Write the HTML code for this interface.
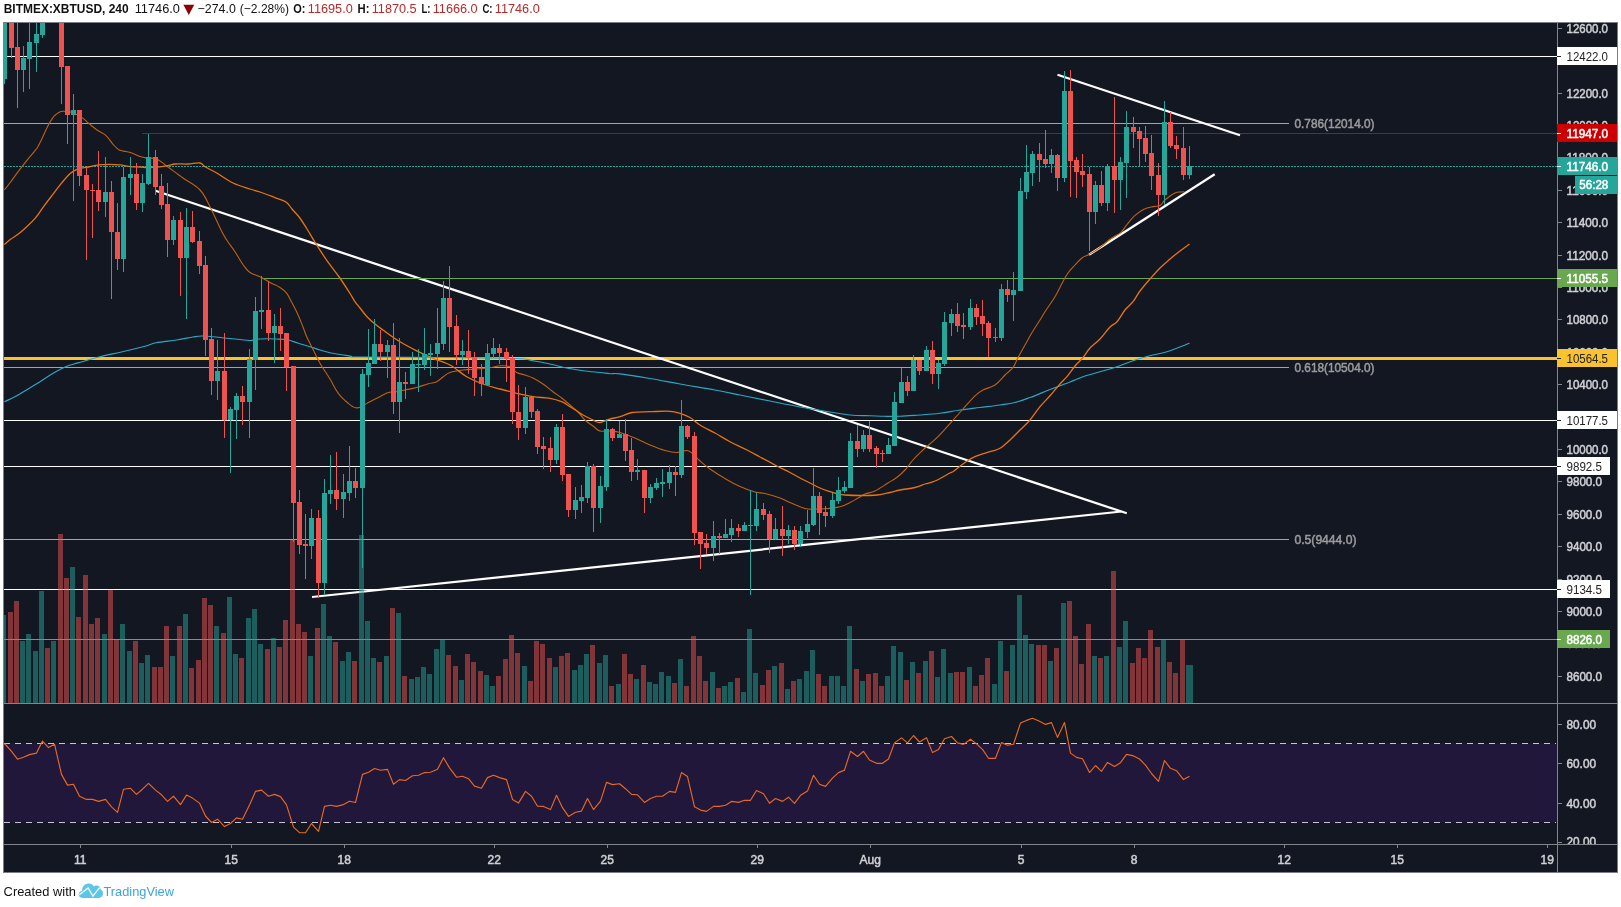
<!DOCTYPE html>
<html><head><meta charset="utf-8"><title>BITMEX:XBTUSD</title>
<style>html,body{margin:0;padding:0;background:#fff;width:1621px;height:907px;overflow:hidden;font-family:"Liberation Sans",sans-serif}</style></head>
<body>
<svg width="1621" height="907" viewBox="0 0 1621 907" style="position:absolute;left:0;top:0;will-change:transform" font-family="Liberation Sans, sans-serif" shape-rendering="auto">
<rect x="0" y="0" width="1621" height="907" fill="#ffffff"/>
<rect x="3" y="22" width="1615" height="851" fill="#7d7f86"/>
<rect x="4" y="23" width="1613" height="849" fill="#131722"/>
<defs><clipPath id="cm"><rect x="4" y="23" width="1553" height="680"/></clipPath><clipPath id="cax"><rect x="1558" y="704" width="59" height="140"/></clipPath><clipPath id="cr"><rect x="4" y="704" width="1553" height="140"/></clipPath></defs>
<g clip-path="url(#cm)">
<rect x="4" y="56" width="1553" height="1" fill="#ffffff"/>
<rect x="4" y="420" width="1553" height="1" fill="#ffffff"/>
<rect x="4" y="466" width="1553" height="1" fill="#ffffff"/>
<rect x="4" y="589" width="1553" height="1" fill="#ffffff"/>
<rect x="4" y="357" width="1553" height="3" fill="#fbc22f"/>
<rect x="142" y="133" width="1415" height="1" fill="#cc0000"/>
<rect x="4" y="639" width="1553" height="1" fill="#6aa84f"/>
<rect x="4" y="123" width="1285" height="1" fill="#a2a4aa"/>
<text x="1294.5" y="127.7" font-size="12" fill="#9b9b9b" stroke="#9b9b9b" stroke-width="0.5" textLength="80" lengthAdjust="spacingAndGlyphs">0.786(12014.0)</text>
<rect x="4" y="367" width="1285" height="1" fill="#a2a4aa"/>
<text x="1294.5" y="371.9" font-size="12" fill="#9b9b9b" stroke="#9b9b9b" stroke-width="0.5" textLength="80" lengthAdjust="spacingAndGlyphs">0.618(10504.0)</text>
<rect x="4" y="539" width="1285" height="1" fill="#a2a4aa"/>
<text x="1294.5" y="543.9" font-size="12" fill="#9b9b9b" stroke="#9b9b9b" stroke-width="0.5" textLength="62" lengthAdjust="spacingAndGlyphs">0.5(9444.0)</text>
<line x1="4" y1="166.5" x2="1557" y2="166.5" stroke="#26a69a" stroke-width="1" stroke-dasharray="2 1" shape-rendering="crispEdges"/>
<line x1="155.5" y1="190.8" x2="1126.8" y2="513.3" stroke="#ffffff" stroke-width="2.25" stroke-linecap="butt"/>
<line x1="312" y1="597" x2="1121.5" y2="511.5" stroke="#ffffff" stroke-width="2.25" stroke-linecap="butt"/>
<line x1="1057.5" y1="74.7" x2="1240" y2="135.3" stroke="#ffffff" stroke-width="2.25" stroke-linecap="butt"/>
<line x1="1089" y1="254.7" x2="1214.7" y2="174.2" stroke="#ffffff" stroke-width="2.25" stroke-linecap="butt"/>
<rect x="261" y="278" width="1296" height="1" fill="#6aa84f"/>
<path d="M4.4,401.8 C6.6,400.7 11.5,398.6 16.7,395.7 C21.9,392.8 26.4,390.0 33.4,385.7 C40.4,381.4 49.7,375.3 55.7,371.8 C61.7,368.3 62.8,367.8 66.8,366.2 C70.8,364.6 72.0,364.6 78.0,362.9 C84.0,361.2 92.0,358.7 100.0,356.7 C108.0,354.7 114.4,353.6 122.5,351.7 C130.6,349.8 139.0,347.8 145.0,346.2 C151.0,344.6 150.3,343.9 156.0,342.8 C161.7,341.7 170.0,341.0 176.7,340.0 C183.4,339.0 188.5,337.7 193.0,337.0 C197.5,336.3 198.1,336.1 201.7,336.0 C205.3,335.9 208.5,336.3 213.0,336.7 C217.5,337.1 221.8,337.8 226.7,338.3 C231.6,338.8 235.8,339.1 240.0,339.5 C244.2,339.9 246.4,340.6 250.0,340.5 C253.6,340.4 255.2,339.3 260.0,339.0 C264.8,338.7 271.6,338.8 276.7,339.0 C281.8,339.2 284.4,339.2 288.3,340.0 C292.2,340.8 294.4,342.1 298.3,343.3 C302.2,344.5 306.1,345.5 310.0,346.7 C313.9,347.9 316.4,348.9 320.0,350.0 C323.6,351.1 324.6,351.7 330.0,352.8 C335.4,353.9 344.6,355.2 350.0,356.0 C355.4,356.8 342.0,356.7 360.0,357.0 C378.0,357.3 421.8,357.2 450.0,357.5 C478.2,357.8 501.8,357.9 516.7,358.5 C531.6,359.1 527.0,359.8 533.0,360.8 C539.0,361.8 543.9,362.7 550.0,364.0 C556.1,365.3 560.8,366.8 566.7,368.0 C572.6,369.2 577.0,370.0 583.0,370.8 C589.0,371.6 595.1,372.0 600.0,372.5 C604.9,373.0 606.4,373.4 610.0,373.7 C613.6,374.0 612.8,373.0 620.0,373.9 C627.2,374.8 639.2,376.7 650.0,378.5 C660.8,380.3 668.3,381.9 680.0,384.0 C691.7,386.1 704.2,388.0 715.0,390.0 C725.8,392.0 730.1,393.0 740.0,395.0 C749.9,397.0 759.2,398.8 770.0,401.0 C780.8,403.2 789.2,405.0 800.0,407.0 C810.8,409.0 821.0,410.6 830.0,412.0 C839.0,413.4 842.8,414.3 850.0,415.0 C857.2,415.7 863.7,415.6 870.0,415.8 C876.3,416.0 879.6,416.2 885.0,416.3 C890.4,416.4 893.7,416.5 900.0,416.3 C906.3,416.1 912.8,415.5 920.0,415.0 C927.2,414.5 932.8,414.2 940.0,413.3 C947.2,412.4 952.8,411.0 960.0,410.0 C967.2,409.0 972.8,408.4 980.0,407.5 C987.2,406.6 993.7,405.9 1000.0,405.0 C1006.3,404.1 1009.6,403.9 1015.0,402.5 C1020.4,401.1 1023.7,399.8 1030.0,397.5 C1036.3,395.2 1042.8,392.3 1050.0,389.5 C1057.2,386.7 1064.1,384.3 1070.0,382.0 C1075.9,379.7 1077.6,378.6 1083.0,376.7 C1088.4,374.8 1093.9,373.5 1100.0,371.7 C1106.1,369.9 1111.1,368.7 1117.0,366.7 C1122.9,364.7 1127.1,362.8 1133.0,360.8 C1138.9,358.8 1143.9,357.4 1150.0,355.8 C1156.1,354.2 1159.9,353.9 1167.0,351.7 C1174.1,349.4 1185.5,344.8 1189.5,343.3" fill="none" stroke="#2aa9c4" stroke-width="1.15" stroke-linejoin="round"/>
<path d="M4.4,190.0 C5.5,188.6 8.2,185.2 10.6,182.0 C13.0,178.8 14.7,176.1 17.6,172.3 C20.5,168.5 23.3,164.8 26.5,160.8 C29.7,156.8 33.2,152.8 35.3,150.3 C37.4,147.8 36.6,148.9 37.9,146.7 C39.2,144.5 40.6,141.5 42.3,137.9 C44.0,134.3 45.7,130.2 47.6,126.5 C49.5,122.8 51.3,119.8 52.9,117.6 C54.5,115.4 55.0,115.2 56.4,114.1 C57.8,113.0 59.2,112.0 60.8,111.5 C62.4,111.0 63.3,111.2 65.3,111.4 C67.3,111.6 69.0,111.4 72.0,112.5 C75.0,113.6 79.1,115.7 82.0,117.6 C84.9,119.5 85.5,120.7 88.2,122.9 C90.9,125.1 93.8,127.8 97.0,130.0 C100.2,132.2 102.9,132.8 105.8,135.3 C108.7,137.8 110.7,141.6 112.9,144.1 C115.1,146.6 116.3,148.1 118.2,149.4 C120.1,150.7 121.3,150.6 123.5,151.1 C125.7,151.6 127.5,151.4 130.5,152.4 C133.5,153.4 137.0,155.4 140.0,156.4 C143.0,157.4 144.0,157.5 147.0,158.0 C150.0,158.5 153.2,157.6 156.7,159.0 C160.2,160.4 162.0,162.6 166.7,166.0 C171.4,169.4 177.0,173.7 183.0,178.0 C189.0,182.3 195.1,184.8 200.0,190.0 C204.9,195.2 206.2,199.5 210.0,206.7 C213.8,213.9 218.0,224.0 221.0,230.0 C224.0,236.0 224.2,236.1 226.7,240.0 C229.2,243.9 232.0,247.2 235.0,251.7 C238.0,256.2 240.6,261.3 243.3,265.0 C246.0,268.7 247.0,270.4 250.0,272.5 C253.0,274.6 256.4,274.9 260.0,276.7 C263.6,278.5 266.4,280.6 270.0,282.5 C273.6,284.4 277.0,285.6 280.0,287.5 C283.0,289.4 284.4,290.4 286.6,293.2 C288.8,296.0 289.9,298.9 292.0,302.8 C294.1,306.7 296.0,310.3 298.0,314.7 C300.0,319.1 301.4,323.0 303.0,327.0 C304.6,331.0 304.8,332.6 306.7,336.7 C308.6,340.8 310.9,345.2 313.3,350.0 C315.7,354.8 317.0,358.1 320.0,363.3 C323.0,368.5 326.7,373.6 330.0,379.0 C333.3,384.4 335.0,388.9 338.3,393.3 C341.6,397.7 345.2,400.7 348.3,403.3 C351.4,405.9 353.4,407.3 355.8,407.8 C358.2,408.3 359.4,407.3 361.7,406.3 C363.9,405.3 365.3,404.1 368.3,402.5 C371.3,400.9 374.7,399.3 378.3,397.5 C381.9,395.7 385.3,393.5 388.3,392.5 C391.3,391.5 392.0,392.4 395.0,392.0 C398.0,391.6 401.1,390.8 405.0,390.0 C408.9,389.2 412.5,388.6 416.7,387.5 C420.9,386.4 424.7,384.7 428.3,383.7 C431.9,382.7 434.0,383.0 436.7,381.7 C439.4,380.4 440.9,378.4 443.3,376.7 C445.7,375.0 446.4,373.7 450.0,372.5 C453.6,371.3 458.5,370.6 463.3,370.0 C468.1,369.4 471.6,369.4 476.7,369.0 C481.8,368.6 487.5,368.1 491.7,367.5 C495.9,366.9 496.7,365.9 500.0,365.8 C503.3,365.7 507.0,365.5 510.0,366.7 C513.0,367.9 514.0,371.0 516.7,372.5 C519.4,374.0 522.1,374.0 525.0,375.0 C527.9,376.0 529.8,376.4 533.0,378.0 C536.2,379.6 539.4,381.5 543.0,384.0 C546.6,386.5 549.6,389.2 553.0,391.7 C556.4,394.2 558.6,395.6 561.7,398.0 C564.8,400.4 567.1,402.5 570.0,405.0 C572.9,407.5 575.3,409.3 578.0,412.0 C580.7,414.7 582.3,417.5 585.0,420.0 C587.7,422.5 590.3,424.0 593.0,426.0 C595.7,428.0 596.9,430.1 600.0,431.0 C603.1,431.9 606.4,430.7 610.0,431.0 C613.6,431.3 615.5,431.2 620.0,432.5 C624.5,433.8 629.6,435.8 635.0,438.0 C640.4,440.2 644.6,442.8 650.0,445.0 C655.4,447.2 660.1,449.1 665.0,450.5 C669.9,451.9 673.0,452.5 677.0,452.5 C681.0,452.5 684.1,450.2 687.0,450.5 C689.9,450.8 690.7,452.1 693.0,454.0 C695.3,455.9 696.9,458.3 700.0,461.0 C703.1,463.7 705.5,465.9 710.0,469.0 C714.5,472.1 719.6,475.4 725.0,478.5 C730.4,481.6 734.6,484.1 740.0,486.5 C745.4,488.9 750.5,490.7 755.0,492.0 C759.5,493.3 760.5,492.4 765.0,493.5 C769.5,494.6 775.5,496.4 780.0,498.0 C784.5,499.6 786.4,500.9 790.0,502.5 C793.6,504.1 796.8,505.5 800.0,506.7 C803.2,507.9 803.5,508.6 808.0,509.0 C812.5,509.4 819.2,509.1 825.0,508.7 C830.8,508.3 835.5,507.8 840.0,506.7 C844.5,505.6 846.8,504.1 850.0,502.5 C853.2,500.9 855.3,499.5 858.0,498.0 C860.7,496.5 861.9,495.3 865.0,494.0 C868.1,492.7 870.9,493.0 875.0,491.0 C879.1,489.0 884.1,485.4 888.0,483.0 C891.9,480.6 893.6,479.8 896.7,477.5 C899.8,475.2 902.1,473.1 905.0,470.0 C907.9,466.9 909.8,463.6 913.0,460.0 C916.2,456.4 920.5,452.4 923.0,450.0 C925.5,447.6 924.0,449.1 926.7,446.7 C929.4,444.3 933.5,441.2 938.0,436.7 C942.5,432.2 947.2,426.7 951.7,421.7 C956.2,416.7 958.8,413.7 963.0,409.0 C967.2,404.3 971.4,399.2 975.0,395.8 C978.6,392.4 979.4,391.9 983.0,390.0 C986.6,388.1 991.0,387.7 995.0,385.0 C999.0,382.3 1001.8,378.1 1005.0,375.0 C1008.2,371.9 1010.7,370.6 1013.0,367.5 C1015.3,364.4 1015.8,361.6 1018.0,357.5 C1020.2,353.4 1022.5,349.4 1025.0,345.0 C1027.5,340.6 1029.0,337.5 1031.7,333.0 C1034.4,328.5 1037.6,323.8 1040.0,320.0 C1042.4,316.2 1042.3,315.9 1045.0,311.7 C1047.7,307.5 1051.9,301.8 1055.0,296.7 C1058.1,291.6 1059.7,287.6 1062.0,283.3 C1064.3,279.0 1065.7,276.3 1068.0,273.0 C1070.3,269.7 1072.5,267.7 1075.0,265.0 C1077.5,262.3 1079.7,259.8 1082.0,258.0 C1084.3,256.2 1085.7,256.3 1088.0,255.0 C1090.3,253.7 1092.5,252.6 1095.0,251.0 C1097.5,249.4 1099.5,248.0 1102.0,246.0 C1104.5,244.0 1106.7,241.8 1109.0,240.0 C1111.3,238.2 1112.8,237.4 1115.0,236.0 C1117.2,234.6 1118.8,234.5 1121.0,232.4 C1123.2,230.3 1124.5,227.6 1127.0,224.5 C1129.5,221.4 1131.9,218.1 1135.0,215.4 C1138.1,212.7 1140.8,210.9 1144.0,209.3 C1147.2,207.7 1150.1,207.3 1153.0,206.6 C1155.9,205.9 1157.8,206.7 1160.0,205.5 C1162.2,204.3 1162.3,202.2 1165.0,200.0 C1167.7,197.8 1172.1,194.4 1175.0,193.0 C1177.9,191.6 1179.3,192.2 1181.0,192.0 C1182.7,191.8 1183.9,191.8 1184.5,191.8" fill="none" stroke="#c2620e" stroke-width="1.1" stroke-linejoin="round"/>
<path d="M4.4,244.6 C5.5,243.6 8.2,241.1 10.6,239.3 C13.0,237.5 14.7,236.8 17.6,234.6 C20.5,232.4 23.3,230.0 26.5,227.0 C29.7,224.0 32.1,222.0 35.3,218.2 C38.5,214.4 40.9,210.1 44.1,205.8 C47.3,201.5 49.7,198.5 52.9,194.4 C56.1,190.3 58.5,186.7 61.7,182.9 C64.9,179.1 67.6,175.7 70.5,173.2 C73.4,170.7 74.4,170.2 77.6,169.1 C80.8,168.0 84.4,167.8 88.2,167.0 C92.0,166.2 95.0,165.4 98.8,164.9 C102.6,164.4 105.5,164.4 109.3,164.4 C113.1,164.4 116.1,164.5 119.9,164.9 C123.7,165.3 126.9,166.3 130.5,166.7 C134.1,167.1 136.5,166.9 140.0,167.0 C143.5,167.1 145.2,167.7 150.0,167.5 C154.8,167.3 162.2,166.4 166.7,165.8 C171.2,165.2 171.2,164.3 175.0,164.0 C178.8,163.7 183.5,164.2 188.0,164.0 C192.5,163.8 196.9,162.5 200.0,163.0 C203.1,163.5 202.0,164.9 205.0,166.7 C208.0,168.5 211.7,170.1 216.7,173.0 C221.7,175.9 227.0,180.1 233.0,183.0 C239.0,185.9 245.1,187.4 250.0,189.0 C254.9,190.6 255.5,190.5 260.0,192.0 C264.5,193.5 270.3,195.8 275.0,197.6 C279.7,199.4 282.9,199.9 286.0,202.0 C289.1,204.1 289.6,206.2 292.0,209.0 C294.4,211.8 296.8,213.9 299.5,217.5 C302.2,221.1 304.1,224.4 307.0,229.0 C309.9,233.6 311.7,237.1 315.4,242.9 C319.1,248.7 323.0,255.0 327.3,261.1 C331.6,267.2 335.1,271.2 339.2,277.0 C343.3,282.8 347.1,289.0 350.0,293.5 C352.9,298.0 353.3,299.2 355.1,301.8 C356.9,304.4 357.9,305.3 360.0,308.0 C362.1,310.7 364.3,313.8 367.0,316.7 C369.7,319.6 372.1,321.6 375.0,324.0 C377.9,326.4 378.5,326.8 383.0,330.0 C387.5,333.2 393.9,338.0 400.0,341.7 C406.1,345.4 410.8,347.8 416.7,350.8 C422.6,353.8 427.0,355.7 433.0,358.3 C439.0,360.9 443.9,361.7 450.0,365.0 C456.1,368.3 460.8,373.3 466.7,376.7 C472.6,380.1 477.0,381.8 483.0,384.0 C489.0,386.2 493.9,387.3 500.0,389.0 C506.1,390.7 510.8,391.9 516.7,393.3 C522.6,394.7 527.0,395.8 533.0,396.7 C539.0,397.6 544.8,397.4 550.0,398.3 C555.2,399.2 558.1,400.2 561.7,401.7 C565.3,403.2 567.2,405.0 570.0,406.7 C572.8,408.4 574.7,409.5 577.0,411.0 C579.3,412.5 580.1,413.4 583.0,415.0 C585.9,416.6 589.9,418.6 593.0,420.0 C596.1,421.4 596.9,422.7 600.0,422.5 C603.1,422.3 606.4,420.0 610.0,419.0 C613.6,418.0 616.0,417.9 620.0,416.7 C624.0,415.5 626.6,413.4 632.0,412.5 C637.4,411.6 643.2,411.9 650.0,411.7 C656.8,411.5 664.6,411.0 670.0,411.3 C675.4,411.6 676.4,412.2 680.0,413.3 C683.6,414.4 686.4,415.4 690.0,417.5 C693.6,419.6 695.5,422.2 700.0,425.0 C704.5,427.8 709.6,430.0 715.0,433.0 C720.4,436.0 724.2,438.6 730.0,441.7 C735.8,444.8 741.6,447.2 747.0,450.0 C752.4,452.8 755.0,454.3 760.0,457.0 C765.0,459.7 769.6,462.2 775.0,465.0 C780.4,467.8 785.5,470.2 790.0,472.5 C794.5,474.8 796.4,476.1 800.0,478.0 C803.6,479.9 806.4,481.2 810.0,483.0 C813.6,484.8 816.4,486.4 820.0,488.0 C823.6,489.6 826.8,490.6 830.0,491.7 C833.2,492.8 835.3,493.4 838.0,494.0 C840.7,494.6 841.0,494.7 845.0,495.0 C849.0,495.3 854.2,495.5 860.0,495.5 C865.8,495.5 871.6,495.5 877.0,495.0 C882.4,494.5 885.9,493.4 890.0,492.5 C894.1,491.6 895.5,490.9 900.0,490.0 C904.5,489.1 910.5,488.6 915.0,487.5 C919.5,486.4 921.4,485.2 925.0,484.0 C928.6,482.8 930.5,483.0 935.0,481.0 C939.5,479.0 946.6,474.8 950.0,473.0 C953.4,471.2 951.3,472.9 954.0,471.0 C956.7,469.1 961.2,465.1 965.0,462.5 C968.8,459.9 970.5,458.6 975.0,456.7 C979.5,454.8 985.5,453.2 990.0,451.7 C994.5,450.2 996.4,450.4 1000.0,448.3 C1003.6,446.2 1006.4,443.3 1010.0,440.0 C1013.6,436.7 1016.4,433.6 1020.0,430.0 C1023.6,426.4 1026.4,424.2 1030.0,420.0 C1033.6,415.8 1036.4,411.1 1040.0,406.7 C1043.6,402.3 1046.4,399.9 1050.0,395.8 C1053.6,391.7 1056.9,387.4 1060.0,384.0 C1063.1,380.6 1064.3,379.9 1067.0,376.7 C1069.7,373.5 1072.1,369.5 1075.0,366.0 C1077.9,362.5 1080.3,360.7 1083.0,357.5 C1085.7,354.3 1086.9,351.3 1090.0,348.0 C1093.1,344.7 1096.4,342.8 1100.0,339.0 C1103.6,335.2 1106.9,330.1 1110.0,327.0 C1113.1,323.9 1114.3,324.8 1117.0,321.7 C1119.7,318.6 1122.1,313.6 1125.0,310.0 C1127.9,306.4 1130.3,305.1 1133.0,301.7 C1135.7,298.3 1136.9,295.1 1140.0,291.0 C1143.1,286.9 1146.4,283.1 1150.0,279.0 C1153.6,274.9 1156.4,271.6 1160.0,268.0 C1163.6,264.4 1166.4,262.1 1170.0,259.0 C1173.6,255.9 1176.5,253.7 1180.0,251.0 C1183.5,248.3 1187.8,245.3 1189.5,244.0" fill="none" stroke="#ea740f" stroke-width="1.3" stroke-linejoin="round"/>
<rect x="1" y="615.0" width="5" height="88.0" fill="#26a69a" fill-opacity="0.5"/>
<rect x="8" y="612.0" width="5" height="91.0" fill="#ef5350" fill-opacity="0.5"/>
<rect x="14" y="601.0" width="5" height="102.0" fill="#ef5350" fill-opacity="0.5"/>
<rect x="20" y="641.0" width="5" height="62.0" fill="#26a69a" fill-opacity="0.5"/>
<rect x="26" y="634.0" width="5" height="69.0" fill="#26a69a" fill-opacity="0.5"/>
<rect x="33" y="651.0" width="5" height="52.0" fill="#26a69a" fill-opacity="0.5"/>
<rect x="39" y="591.0" width="5" height="112.0" fill="#26a69a" fill-opacity="0.5"/>
<rect x="45" y="648.0" width="5" height="55.0" fill="#ef5350" fill-opacity="0.5"/>
<rect x="51" y="641.0" width="5" height="62.0" fill="#26a69a" fill-opacity="0.5"/>
<rect x="58" y="534.0" width="5" height="169.0" fill="#ef5350" fill-opacity="0.5"/>
<rect x="64" y="578.0" width="5" height="125.0" fill="#ef5350" fill-opacity="0.5"/>
<rect x="70" y="567.0" width="5" height="136.0" fill="#26a69a" fill-opacity="0.5"/>
<rect x="76" y="617.0" width="5" height="86.0" fill="#ef5350" fill-opacity="0.5"/>
<rect x="83" y="575.0" width="5" height="128.0" fill="#ef5350" fill-opacity="0.5"/>
<rect x="89" y="624.0" width="5" height="79.0" fill="#ef5350" fill-opacity="0.5"/>
<rect x="95" y="618.0" width="5" height="85.0" fill="#ef5350" fill-opacity="0.5"/>
<rect x="102" y="634.0" width="5" height="69.0" fill="#26a69a" fill-opacity="0.5"/>
<rect x="108" y="590.0" width="5" height="113.0" fill="#ef5350" fill-opacity="0.5"/>
<rect x="114" y="640.0" width="5" height="63.0" fill="#ef5350" fill-opacity="0.5"/>
<rect x="120" y="624.0" width="5" height="79.0" fill="#26a69a" fill-opacity="0.5"/>
<rect x="127" y="651.0" width="5" height="52.0" fill="#26a69a" fill-opacity="0.5"/>
<rect x="133" y="641.0" width="5" height="62.0" fill="#ef5350" fill-opacity="0.5"/>
<rect x="139" y="663.0" width="5" height="40.0" fill="#26a69a" fill-opacity="0.5"/>
<rect x="145" y="655.0" width="5" height="48.0" fill="#26a69a" fill-opacity="0.5"/>
<rect x="152" y="667.0" width="5" height="36.0" fill="#ef5350" fill-opacity="0.5"/>
<rect x="158" y="667.0" width="5" height="36.0" fill="#ef5350" fill-opacity="0.5"/>
<rect x="164" y="626.0" width="5" height="77.0" fill="#ef5350" fill-opacity="0.5"/>
<rect x="170" y="656.0" width="5" height="47.0" fill="#26a69a" fill-opacity="0.5"/>
<rect x="177" y="626.0" width="5" height="77.0" fill="#ef5350" fill-opacity="0.5"/>
<rect x="183" y="614.0" width="5" height="89.0" fill="#26a69a" fill-opacity="0.5"/>
<rect x="189" y="668.0" width="5" height="35.0" fill="#ef5350" fill-opacity="0.5"/>
<rect x="196" y="660.0" width="5" height="43.0" fill="#ef5350" fill-opacity="0.5"/>
<rect x="202" y="598.0" width="5" height="105.0" fill="#ef5350" fill-opacity="0.5"/>
<rect x="208" y="605.0" width="5" height="98.0" fill="#ef5350" fill-opacity="0.5"/>
<rect x="214" y="626.0" width="5" height="77.0" fill="#26a69a" fill-opacity="0.5"/>
<rect x="221" y="633.0" width="5" height="70.0" fill="#ef5350" fill-opacity="0.5"/>
<rect x="227" y="597.0" width="5" height="106.0" fill="#26a69a" fill-opacity="0.5"/>
<rect x="233" y="654.0" width="5" height="49.0" fill="#26a69a" fill-opacity="0.5"/>
<rect x="239" y="658.0" width="5" height="45.0" fill="#ef5350" fill-opacity="0.5"/>
<rect x="246" y="618.0" width="5" height="85.0" fill="#26a69a" fill-opacity="0.5"/>
<rect x="252" y="609.0" width="5" height="94.0" fill="#26a69a" fill-opacity="0.5"/>
<rect x="258" y="644.0" width="5" height="59.0" fill="#26a69a" fill-opacity="0.5"/>
<rect x="265" y="649.0" width="5" height="54.0" fill="#ef5350" fill-opacity="0.5"/>
<rect x="271" y="638.0" width="5" height="65.0" fill="#26a69a" fill-opacity="0.5"/>
<rect x="277" y="647.0" width="5" height="56.0" fill="#ef5350" fill-opacity="0.5"/>
<rect x="283" y="620.0" width="5" height="83.0" fill="#ef5350" fill-opacity="0.5"/>
<rect x="290" y="540.0" width="5" height="163.0" fill="#ef5350" fill-opacity="0.5"/>
<rect x="296" y="624.0" width="5" height="79.0" fill="#ef5350" fill-opacity="0.5"/>
<rect x="302" y="632.0" width="5" height="71.0" fill="#ef5350" fill-opacity="0.5"/>
<rect x="308" y="656.0" width="5" height="47.0" fill="#26a69a" fill-opacity="0.5"/>
<rect x="315" y="628.0" width="5" height="75.0" fill="#ef5350" fill-opacity="0.5"/>
<rect x="321" y="604.0" width="5" height="99.0" fill="#26a69a" fill-opacity="0.5"/>
<rect x="327" y="636.0" width="5" height="67.0" fill="#26a69a" fill-opacity="0.5"/>
<rect x="333" y="642.0" width="5" height="61.0" fill="#ef5350" fill-opacity="0.5"/>
<rect x="340" y="661.0" width="5" height="42.0" fill="#26a69a" fill-opacity="0.5"/>
<rect x="346" y="652.0" width="5" height="51.0" fill="#26a69a" fill-opacity="0.5"/>
<rect x="352" y="661.0" width="5" height="42.0" fill="#ef5350" fill-opacity="0.5"/>
<rect x="359" y="535.0" width="5" height="168.0" fill="#26a69a" fill-opacity="0.5"/>
<rect x="365" y="621.0" width="5" height="82.0" fill="#26a69a" fill-opacity="0.5"/>
<rect x="371" y="658.0" width="5" height="45.0" fill="#26a69a" fill-opacity="0.5"/>
<rect x="377" y="662.0" width="5" height="41.0" fill="#ef5350" fill-opacity="0.5"/>
<rect x="384" y="656.0" width="5" height="47.0" fill="#26a69a" fill-opacity="0.5"/>
<rect x="390" y="608.0" width="5" height="95.0" fill="#ef5350" fill-opacity="0.5"/>
<rect x="396" y="613.0" width="5" height="90.0" fill="#26a69a" fill-opacity="0.5"/>
<rect x="402" y="676.0" width="5" height="27.0" fill="#ef5350" fill-opacity="0.5"/>
<rect x="409" y="679.0" width="5" height="24.0" fill="#26a69a" fill-opacity="0.5"/>
<rect x="415" y="677.0" width="5" height="26.0" fill="#26a69a" fill-opacity="0.5"/>
<rect x="421" y="667.0" width="5" height="36.0" fill="#26a69a" fill-opacity="0.5"/>
<rect x="427" y="674.0" width="5" height="29.0" fill="#26a69a" fill-opacity="0.5"/>
<rect x="434" y="649.0" width="5" height="54.0" fill="#26a69a" fill-opacity="0.5"/>
<rect x="440" y="640.0" width="5" height="63.0" fill="#26a69a" fill-opacity="0.5"/>
<rect x="446" y="655.0" width="5" height="48.0" fill="#ef5350" fill-opacity="0.5"/>
<rect x="453" y="666.0" width="5" height="37.0" fill="#ef5350" fill-opacity="0.5"/>
<rect x="459" y="680.0" width="5" height="23.0" fill="#26a69a" fill-opacity="0.5"/>
<rect x="465" y="654.0" width="5" height="49.0" fill="#ef5350" fill-opacity="0.5"/>
<rect x="471" y="662.0" width="5" height="41.0" fill="#ef5350" fill-opacity="0.5"/>
<rect x="478" y="671.0" width="5" height="32.0" fill="#ef5350" fill-opacity="0.5"/>
<rect x="484" y="675.0" width="5" height="28.0" fill="#26a69a" fill-opacity="0.5"/>
<rect x="490" y="686.0" width="5" height="17.0" fill="#26a69a" fill-opacity="0.5"/>
<rect x="496" y="676.0" width="5" height="27.0" fill="#ef5350" fill-opacity="0.5"/>
<rect x="503" y="659.0" width="5" height="44.0" fill="#ef5350" fill-opacity="0.5"/>
<rect x="509" y="635.0" width="5" height="68.0" fill="#ef5350" fill-opacity="0.5"/>
<rect x="515" y="653.0" width="5" height="50.0" fill="#ef5350" fill-opacity="0.5"/>
<rect x="522" y="666.0" width="5" height="37.0" fill="#26a69a" fill-opacity="0.5"/>
<rect x="528" y="681.0" width="5" height="22.0" fill="#ef5350" fill-opacity="0.5"/>
<rect x="534" y="641.0" width="5" height="62.0" fill="#ef5350" fill-opacity="0.5"/>
<rect x="540" y="644.0" width="5" height="59.0" fill="#ef5350" fill-opacity="0.5"/>
<rect x="547" y="658.0" width="5" height="45.0" fill="#ef5350" fill-opacity="0.5"/>
<rect x="553" y="667.0" width="5" height="36.0" fill="#26a69a" fill-opacity="0.5"/>
<rect x="559" y="656.0" width="5" height="47.0" fill="#ef5350" fill-opacity="0.5"/>
<rect x="565" y="653.0" width="5" height="50.0" fill="#ef5350" fill-opacity="0.5"/>
<rect x="572" y="670.0" width="5" height="33.0" fill="#26a69a" fill-opacity="0.5"/>
<rect x="578" y="665.0" width="5" height="38.0" fill="#26a69a" fill-opacity="0.5"/>
<rect x="584" y="654.0" width="5" height="49.0" fill="#26a69a" fill-opacity="0.5"/>
<rect x="590" y="645.0" width="5" height="58.0" fill="#ef5350" fill-opacity="0.5"/>
<rect x="597" y="663.0" width="5" height="40.0" fill="#26a69a" fill-opacity="0.5"/>
<rect x="603" y="655.0" width="5" height="48.0" fill="#26a69a" fill-opacity="0.5"/>
<rect x="609" y="686.0" width="5" height="17.0" fill="#ef5350" fill-opacity="0.5"/>
<rect x="616" y="684.0" width="5" height="19.0" fill="#26a69a" fill-opacity="0.5"/>
<rect x="622" y="654.0" width="5" height="49.0" fill="#ef5350" fill-opacity="0.5"/>
<rect x="628" y="674.0" width="5" height="29.0" fill="#ef5350" fill-opacity="0.5"/>
<rect x="634" y="679.0" width="5" height="24.0" fill="#26a69a" fill-opacity="0.5"/>
<rect x="641" y="665.0" width="5" height="38.0" fill="#ef5350" fill-opacity="0.5"/>
<rect x="647" y="682.0" width="5" height="21.0" fill="#26a69a" fill-opacity="0.5"/>
<rect x="653" y="684.0" width="5" height="19.0" fill="#26a69a" fill-opacity="0.5"/>
<rect x="659" y="672.0" width="5" height="31.0" fill="#26a69a" fill-opacity="0.5"/>
<rect x="666" y="676.0" width="5" height="27.0" fill="#26a69a" fill-opacity="0.5"/>
<rect x="672" y="683.0" width="5" height="20.0" fill="#ef5350" fill-opacity="0.5"/>
<rect x="678" y="659.0" width="5" height="44.0" fill="#26a69a" fill-opacity="0.5"/>
<rect x="684" y="686.0" width="5" height="17.0" fill="#ef5350" fill-opacity="0.5"/>
<rect x="691" y="636.0" width="5" height="67.0" fill="#ef5350" fill-opacity="0.5"/>
<rect x="697" y="656.0" width="5" height="47.0" fill="#ef5350" fill-opacity="0.5"/>
<rect x="703" y="681.0" width="5" height="22.0" fill="#ef5350" fill-opacity="0.5"/>
<rect x="710" y="672.0" width="5" height="31.0" fill="#26a69a" fill-opacity="0.5"/>
<rect x="716" y="688.0" width="5" height="15.0" fill="#ef5350" fill-opacity="0.5"/>
<rect x="722" y="686.0" width="5" height="17.0" fill="#26a69a" fill-opacity="0.5"/>
<rect x="728" y="682.0" width="5" height="21.0" fill="#26a69a" fill-opacity="0.5"/>
<rect x="735" y="678.0" width="5" height="25.0" fill="#ef5350" fill-opacity="0.5"/>
<rect x="741" y="692.0" width="5" height="11.0" fill="#26a69a" fill-opacity="0.5"/>
<rect x="747" y="629.0" width="5" height="74.0" fill="#26a69a" fill-opacity="0.5"/>
<rect x="753" y="673.0" width="5" height="30.0" fill="#26a69a" fill-opacity="0.5"/>
<rect x="760" y="685.0" width="5" height="18.0" fill="#ef5350" fill-opacity="0.5"/>
<rect x="766" y="670.0" width="5" height="33.0" fill="#ef5350" fill-opacity="0.5"/>
<rect x="772" y="666.0" width="5" height="37.0" fill="#26a69a" fill-opacity="0.5"/>
<rect x="779" y="663.0" width="5" height="40.0" fill="#ef5350" fill-opacity="0.5"/>
<rect x="785" y="689.0" width="5" height="14.0" fill="#26a69a" fill-opacity="0.5"/>
<rect x="791" y="681.0" width="5" height="22.0" fill="#ef5350" fill-opacity="0.5"/>
<rect x="797" y="679.0" width="5" height="24.0" fill="#26a69a" fill-opacity="0.5"/>
<rect x="804" y="671.0" width="5" height="32.0" fill="#26a69a" fill-opacity="0.5"/>
<rect x="810" y="650.0" width="5" height="53.0" fill="#26a69a" fill-opacity="0.5"/>
<rect x="816" y="674.0" width="5" height="29.0" fill="#ef5350" fill-opacity="0.5"/>
<rect x="822" y="686.0" width="5" height="17.0" fill="#ef5350" fill-opacity="0.5"/>
<rect x="829" y="676.0" width="5" height="27.0" fill="#26a69a" fill-opacity="0.5"/>
<rect x="835" y="676.0" width="5" height="27.0" fill="#26a69a" fill-opacity="0.5"/>
<rect x="841" y="686.0" width="5" height="17.0" fill="#26a69a" fill-opacity="0.5"/>
<rect x="847" y="626.0" width="5" height="77.0" fill="#26a69a" fill-opacity="0.5"/>
<rect x="854" y="669.0" width="5" height="34.0" fill="#ef5350" fill-opacity="0.5"/>
<rect x="860" y="681.0" width="5" height="22.0" fill="#26a69a" fill-opacity="0.5"/>
<rect x="866" y="674.0" width="5" height="29.0" fill="#ef5350" fill-opacity="0.5"/>
<rect x="873" y="673.0" width="5" height="30.0" fill="#ef5350" fill-opacity="0.5"/>
<rect x="879" y="686.0" width="5" height="17.0" fill="#ef5350" fill-opacity="0.5"/>
<rect x="885" y="676.0" width="5" height="27.0" fill="#26a69a" fill-opacity="0.5"/>
<rect x="891" y="646.0" width="5" height="57.0" fill="#26a69a" fill-opacity="0.5"/>
<rect x="898" y="652.0" width="5" height="51.0" fill="#26a69a" fill-opacity="0.5"/>
<rect x="904" y="680.0" width="5" height="23.0" fill="#ef5350" fill-opacity="0.5"/>
<rect x="910" y="662.0" width="5" height="41.0" fill="#26a69a" fill-opacity="0.5"/>
<rect x="916" y="673.0" width="5" height="30.0" fill="#ef5350" fill-opacity="0.5"/>
<rect x="923" y="661.0" width="5" height="42.0" fill="#26a69a" fill-opacity="0.5"/>
<rect x="929" y="651.0" width="5" height="52.0" fill="#ef5350" fill-opacity="0.5"/>
<rect x="935" y="677.0" width="5" height="26.0" fill="#26a69a" fill-opacity="0.5"/>
<rect x="941" y="649.0" width="5" height="54.0" fill="#26a69a" fill-opacity="0.5"/>
<rect x="948" y="673.0" width="5" height="30.0" fill="#26a69a" fill-opacity="0.5"/>
<rect x="954" y="672.0" width="5" height="31.0" fill="#ef5350" fill-opacity="0.5"/>
<rect x="960" y="672.0" width="5" height="31.0" fill="#ef5350" fill-opacity="0.5"/>
<rect x="967" y="667.0" width="5" height="36.0" fill="#26a69a" fill-opacity="0.5"/>
<rect x="973" y="686.0" width="5" height="17.0" fill="#ef5350" fill-opacity="0.5"/>
<rect x="979" y="675.0" width="5" height="28.0" fill="#ef5350" fill-opacity="0.5"/>
<rect x="985" y="658.0" width="5" height="45.0" fill="#ef5350" fill-opacity="0.5"/>
<rect x="992" y="684.0" width="5" height="19.0" fill="#26a69a" fill-opacity="0.5"/>
<rect x="998" y="641.0" width="5" height="62.0" fill="#26a69a" fill-opacity="0.5"/>
<rect x="1004" y="671.0" width="5" height="32.0" fill="#ef5350" fill-opacity="0.5"/>
<rect x="1010" y="645.0" width="5" height="58.0" fill="#26a69a" fill-opacity="0.5"/>
<rect x="1017" y="595.0" width="5" height="108.0" fill="#26a69a" fill-opacity="0.5"/>
<rect x="1023" y="635.0" width="5" height="68.0" fill="#26a69a" fill-opacity="0.5"/>
<rect x="1029" y="644.0" width="5" height="59.0" fill="#26a69a" fill-opacity="0.5"/>
<rect x="1036" y="645.0" width="5" height="58.0" fill="#ef5350" fill-opacity="0.5"/>
<rect x="1042" y="645.0" width="5" height="58.0" fill="#ef5350" fill-opacity="0.5"/>
<rect x="1048" y="661.0" width="5" height="42.0" fill="#26a69a" fill-opacity="0.5"/>
<rect x="1054" y="648.0" width="5" height="55.0" fill="#ef5350" fill-opacity="0.5"/>
<rect x="1061" y="603.0" width="5" height="100.0" fill="#26a69a" fill-opacity="0.5"/>
<rect x="1067" y="601.0" width="5" height="102.0" fill="#ef5350" fill-opacity="0.5"/>
<rect x="1073" y="636.0" width="5" height="67.0" fill="#ef5350" fill-opacity="0.5"/>
<rect x="1079" y="664.0" width="5" height="39.0" fill="#ef5350" fill-opacity="0.5"/>
<rect x="1086" y="624.0" width="5" height="79.0" fill="#ef5350" fill-opacity="0.5"/>
<rect x="1092" y="656.0" width="5" height="47.0" fill="#26a69a" fill-opacity="0.5"/>
<rect x="1098" y="658.0" width="5" height="45.0" fill="#ef5350" fill-opacity="0.5"/>
<rect x="1104" y="656.0" width="5" height="47.0" fill="#26a69a" fill-opacity="0.5"/>
<rect x="1111" y="571.0" width="5" height="132.0" fill="#ef5350" fill-opacity="0.5"/>
<rect x="1117" y="647.0" width="5" height="56.0" fill="#26a69a" fill-opacity="0.5"/>
<rect x="1123" y="621.0" width="5" height="82.0" fill="#26a69a" fill-opacity="0.5"/>
<rect x="1130" y="663.0" width="5" height="40.0" fill="#ef5350" fill-opacity="0.5"/>
<rect x="1136" y="648.0" width="5" height="55.0" fill="#ef5350" fill-opacity="0.5"/>
<rect x="1142" y="658.0" width="5" height="45.0" fill="#ef5350" fill-opacity="0.5"/>
<rect x="1148" y="630.0" width="5" height="73.0" fill="#ef5350" fill-opacity="0.5"/>
<rect x="1155" y="647.0" width="5" height="56.0" fill="#ef5350" fill-opacity="0.5"/>
<rect x="1161" y="640.0" width="5" height="63.0" fill="#26a69a" fill-opacity="0.5"/>
<rect x="1167" y="662.0" width="5" height="41.0" fill="#ef5350" fill-opacity="0.5"/>
<rect x="1173" y="673.0" width="5" height="30.0" fill="#ef5350" fill-opacity="0.5"/>
<rect x="1180" y="640.0" width="5" height="63.0" fill="#ef5350" fill-opacity="0.5"/>
<rect x="1186" y="665.0" width="7" height="38.0" fill="#26a69a" fill-opacity="0.5"/>
<rect x="4" y="10.0" width="1" height="74.0" fill="#26a69a"/>
<rect x="2" y="10.0" width="5" height="69.0" fill="#26a69a"/>
<rect x="11" y="10.0" width="1" height="48.0" fill="#ef5350"/>
<rect x="9" y="10.0" width="5" height="38.0" fill="#ef5350"/>
<rect x="17" y="10.0" width="1" height="98.0" fill="#ef5350"/>
<rect x="15" y="47.0" width="5" height="23.0" fill="#ef5350"/>
<rect x="23" y="46.0" width="1" height="46.0" fill="#26a69a"/>
<rect x="21" y="58.0" width="5" height="12.0" fill="#26a69a"/>
<rect x="29" y="10.0" width="1" height="79.0" fill="#26a69a"/>
<rect x="27" y="42.0" width="5" height="17.0" fill="#26a69a"/>
<rect x="36" y="10.0" width="1" height="62.0" fill="#26a69a"/>
<rect x="34" y="34.0" width="5" height="9.0" fill="#26a69a"/>
<rect x="42" y="10.0" width="1" height="28.0" fill="#26a69a"/>
<rect x="40" y="10.0" width="5" height="25.0" fill="#26a69a"/>
<rect x="61" y="10.0" width="1" height="94.0" fill="#ef5350"/>
<rect x="59" y="10.0" width="5" height="57.0" fill="#ef5350"/>
<rect x="67" y="66.0" width="1" height="78.0" fill="#ef5350"/>
<rect x="65" y="66.0" width="5" height="49.0" fill="#ef5350"/>
<rect x="73" y="94.0" width="1" height="107.0" fill="#26a69a"/>
<rect x="71" y="110.0" width="5" height="5.0" fill="#26a69a"/>
<rect x="79" y="110.0" width="1" height="76.0" fill="#ef5350"/>
<rect x="77" y="110.0" width="5" height="66.0" fill="#ef5350"/>
<rect x="86" y="168.0" width="1" height="92.0" fill="#ef5350"/>
<rect x="84" y="175.0" width="5" height="15.0" fill="#ef5350"/>
<rect x="92" y="184.0" width="1" height="54.0" fill="#ef5350"/>
<rect x="90" y="190.0" width="5" height="1.0" fill="#ef5350"/>
<rect x="98" y="151.0" width="1" height="60.0" fill="#ef5350"/>
<rect x="96" y="190.0" width="5" height="12.0" fill="#ef5350"/>
<rect x="105" y="157.0" width="1" height="60.0" fill="#26a69a"/>
<rect x="103" y="192.0" width="5" height="10.0" fill="#26a69a"/>
<rect x="111" y="181.0" width="1" height="118.0" fill="#ef5350"/>
<rect x="109" y="192.0" width="5" height="40.0" fill="#ef5350"/>
<rect x="117" y="203.0" width="1" height="67.0" fill="#ef5350"/>
<rect x="115" y="232.0" width="5" height="27.0" fill="#ef5350"/>
<rect x="123" y="167.0" width="1" height="105.0" fill="#26a69a"/>
<rect x="121" y="177.0" width="5" height="82.0" fill="#26a69a"/>
<rect x="130" y="157.0" width="1" height="38.0" fill="#26a69a"/>
<rect x="128" y="174.0" width="5" height="4.0" fill="#26a69a"/>
<rect x="136" y="163.0" width="1" height="47.0" fill="#ef5350"/>
<rect x="134" y="174.0" width="5" height="29.0" fill="#ef5350"/>
<rect x="142" y="174.0" width="1" height="38.0" fill="#26a69a"/>
<rect x="140" y="183.0" width="5" height="20.0" fill="#26a69a"/>
<rect x="148" y="134.0" width="1" height="51.0" fill="#26a69a"/>
<rect x="146" y="157.0" width="5" height="27.0" fill="#26a69a"/>
<rect x="155" y="150.0" width="1" height="45.0" fill="#ef5350"/>
<rect x="153" y="157.0" width="5" height="30.0" fill="#ef5350"/>
<rect x="161" y="174.0" width="1" height="35.0" fill="#ef5350"/>
<rect x="159" y="186.0" width="5" height="19.0" fill="#ef5350"/>
<rect x="167" y="183.0" width="1" height="74.0" fill="#ef5350"/>
<rect x="165" y="204.0" width="5" height="36.0" fill="#ef5350"/>
<rect x="173" y="216.0" width="1" height="29.0" fill="#26a69a"/>
<rect x="171" y="220.0" width="5" height="20.0" fill="#26a69a"/>
<rect x="180" y="212.0" width="1" height="84.0" fill="#ef5350"/>
<rect x="178" y="220.0" width="5" height="38.0" fill="#ef5350"/>
<rect x="186" y="208.0" width="1" height="111.0" fill="#26a69a"/>
<rect x="184" y="227.0" width="5" height="31.0" fill="#26a69a"/>
<rect x="192" y="211.0" width="1" height="32.0" fill="#ef5350"/>
<rect x="190" y="227.0" width="5" height="15.0" fill="#ef5350"/>
<rect x="199" y="231.0" width="1" height="43.0" fill="#ef5350"/>
<rect x="197" y="241.0" width="5" height="25.0" fill="#ef5350"/>
<rect x="205" y="256.0" width="1" height="100.0" fill="#ef5350"/>
<rect x="203" y="265.0" width="5" height="75.0" fill="#ef5350"/>
<rect x="211" y="328.0" width="1" height="67.0" fill="#ef5350"/>
<rect x="209" y="339.0" width="5" height="42.0" fill="#ef5350"/>
<rect x="217" y="340.0" width="1" height="60.0" fill="#26a69a"/>
<rect x="215" y="371.0" width="5" height="10.0" fill="#26a69a"/>
<rect x="224" y="333.0" width="1" height="105.0" fill="#ef5350"/>
<rect x="222" y="371.0" width="5" height="49.0" fill="#ef5350"/>
<rect x="230" y="407.0" width="1" height="66.0" fill="#26a69a"/>
<rect x="228" y="409.0" width="5" height="11.0" fill="#26a69a"/>
<rect x="236" y="393.0" width="1" height="46.0" fill="#26a69a"/>
<rect x="234" y="396.0" width="5" height="14.0" fill="#26a69a"/>
<rect x="242" y="386.0" width="1" height="39.0" fill="#ef5350"/>
<rect x="240" y="396.0" width="5" height="6.0" fill="#ef5350"/>
<rect x="249" y="349.0" width="1" height="89.0" fill="#26a69a"/>
<rect x="247" y="359.0" width="5" height="43.0" fill="#26a69a"/>
<rect x="255" y="297.0" width="1" height="93.0" fill="#26a69a"/>
<rect x="253" y="311.0" width="5" height="49.0" fill="#26a69a"/>
<rect x="261" y="276.0" width="1" height="53.0" fill="#26a69a"/>
<rect x="259" y="310.0" width="5" height="2.0" fill="#26a69a"/>
<rect x="268" y="281.0" width="1" height="60.0" fill="#ef5350"/>
<rect x="266" y="310.0" width="5" height="23.0" fill="#ef5350"/>
<rect x="274" y="314.0" width="1" height="49.0" fill="#26a69a"/>
<rect x="272" y="326.0" width="5" height="7.0" fill="#26a69a"/>
<rect x="280" y="308.0" width="1" height="43.0" fill="#ef5350"/>
<rect x="278" y="326.0" width="5" height="8.0" fill="#ef5350"/>
<rect x="286" y="333.0" width="1" height="58.0" fill="#ef5350"/>
<rect x="284" y="333.0" width="5" height="34.0" fill="#ef5350"/>
<rect x="293" y="366.0" width="1" height="176.0" fill="#ef5350"/>
<rect x="291" y="366.0" width="5" height="137.0" fill="#ef5350"/>
<rect x="299" y="490.0" width="1" height="64.0" fill="#ef5350"/>
<rect x="297" y="502.0" width="5" height="43.0" fill="#ef5350"/>
<rect x="305" y="514.0" width="1" height="65.0" fill="#ef5350"/>
<rect x="303" y="544.0" width="5" height="2.0" fill="#ef5350"/>
<rect x="311" y="509.0" width="1" height="50.0" fill="#26a69a"/>
<rect x="309" y="518.0" width="5" height="28.0" fill="#26a69a"/>
<rect x="318" y="510.0" width="1" height="88.0" fill="#ef5350"/>
<rect x="316" y="518.0" width="5" height="65.0" fill="#ef5350"/>
<rect x="324" y="479.0" width="1" height="115.0" fill="#26a69a"/>
<rect x="322" y="493.0" width="5" height="90.0" fill="#26a69a"/>
<rect x="330" y="455.0" width="1" height="49.0" fill="#26a69a"/>
<rect x="328" y="490.0" width="5" height="4.0" fill="#26a69a"/>
<rect x="336" y="452.0" width="1" height="58.0" fill="#ef5350"/>
<rect x="334" y="490.0" width="5" height="9.0" fill="#ef5350"/>
<rect x="343" y="474.0" width="1" height="44.0" fill="#26a69a"/>
<rect x="341" y="492.0" width="5" height="7.0" fill="#26a69a"/>
<rect x="349" y="446.0" width="1" height="55.0" fill="#26a69a"/>
<rect x="347" y="481.0" width="5" height="12.0" fill="#26a69a"/>
<rect x="355" y="468.0" width="1" height="30.0" fill="#ef5350"/>
<rect x="353" y="481.0" width="5" height="7.0" fill="#ef5350"/>
<rect x="362" y="369.0" width="1" height="199.0" fill="#26a69a"/>
<rect x="360" y="374.0" width="5" height="114.0" fill="#26a69a"/>
<rect x="368" y="329.0" width="1" height="58.0" fill="#26a69a"/>
<rect x="366" y="363.0" width="5" height="12.0" fill="#26a69a"/>
<rect x="374" y="319.0" width="1" height="45.0" fill="#26a69a"/>
<rect x="372" y="344.0" width="5" height="20.0" fill="#26a69a"/>
<rect x="380" y="330.0" width="1" height="31.0" fill="#ef5350"/>
<rect x="378" y="344.0" width="5" height="8.0" fill="#ef5350"/>
<rect x="387" y="340.0" width="1" height="38.0" fill="#26a69a"/>
<rect x="385" y="345.0" width="5" height="7.0" fill="#26a69a"/>
<rect x="393" y="323.0" width="1" height="91.0" fill="#ef5350"/>
<rect x="391" y="345.0" width="5" height="57.0" fill="#ef5350"/>
<rect x="399" y="338.0" width="1" height="95.0" fill="#26a69a"/>
<rect x="397" y="382.0" width="5" height="20.0" fill="#26a69a"/>
<rect x="405" y="372.0" width="1" height="27.0" fill="#ef5350"/>
<rect x="403" y="382.0" width="5" height="2.0" fill="#ef5350"/>
<rect x="412" y="352.0" width="1" height="32.0" fill="#26a69a"/>
<rect x="410" y="364.0" width="5" height="20.0" fill="#26a69a"/>
<rect x="418" y="349.0" width="1" height="43.0" fill="#26a69a"/>
<rect x="416" y="364.0" width="5" height="1.0" fill="#26a69a"/>
<rect x="424" y="328.0" width="1" height="42.0" fill="#26a69a"/>
<rect x="422" y="354.0" width="5" height="11.0" fill="#26a69a"/>
<rect x="430" y="344.0" width="1" height="32.0" fill="#26a69a"/>
<rect x="428" y="353.0" width="5" height="2.0" fill="#26a69a"/>
<rect x="437" y="308.0" width="1" height="61.0" fill="#26a69a"/>
<rect x="435" y="343.0" width="5" height="11.0" fill="#26a69a"/>
<rect x="443" y="281.0" width="1" height="69.0" fill="#26a69a"/>
<rect x="441" y="298.0" width="5" height="46.0" fill="#26a69a"/>
<rect x="449" y="266.0" width="1" height="86.0" fill="#ef5350"/>
<rect x="447" y="298.0" width="5" height="29.0" fill="#ef5350"/>
<rect x="456" y="315.0" width="1" height="50.0" fill="#ef5350"/>
<rect x="454" y="326.0" width="5" height="29.0" fill="#ef5350"/>
<rect x="462" y="340.0" width="1" height="25.0" fill="#26a69a"/>
<rect x="460" y="351.0" width="5" height="4.0" fill="#26a69a"/>
<rect x="468" y="330.0" width="1" height="44.0" fill="#ef5350"/>
<rect x="466" y="351.0" width="5" height="7.0" fill="#ef5350"/>
<rect x="474" y="352.0" width="1" height="44.0" fill="#ef5350"/>
<rect x="472" y="357.0" width="5" height="21.0" fill="#ef5350"/>
<rect x="481" y="364.0" width="1" height="32.0" fill="#ef5350"/>
<rect x="479" y="377.0" width="5" height="7.0" fill="#ef5350"/>
<rect x="487" y="344.0" width="1" height="42.0" fill="#26a69a"/>
<rect x="485" y="353.0" width="5" height="32.0" fill="#26a69a"/>
<rect x="493" y="338.0" width="1" height="20.0" fill="#26a69a"/>
<rect x="491" y="348.0" width="5" height="6.0" fill="#26a69a"/>
<rect x="499" y="344.0" width="1" height="20.0" fill="#ef5350"/>
<rect x="497" y="348.0" width="5" height="5.0" fill="#ef5350"/>
<rect x="506" y="348.0" width="1" height="34.0" fill="#ef5350"/>
<rect x="504" y="352.0" width="5" height="7.0" fill="#ef5350"/>
<rect x="512" y="355.0" width="1" height="69.0" fill="#ef5350"/>
<rect x="510" y="358.0" width="5" height="54.0" fill="#ef5350"/>
<rect x="518" y="385.0" width="1" height="55.0" fill="#ef5350"/>
<rect x="516" y="412.0" width="5" height="16.0" fill="#ef5350"/>
<rect x="525" y="387.0" width="1" height="47.0" fill="#26a69a"/>
<rect x="523" y="397.0" width="5" height="31.0" fill="#26a69a"/>
<rect x="531" y="397.0" width="1" height="21.0" fill="#ef5350"/>
<rect x="529" y="397.0" width="5" height="15.0" fill="#ef5350"/>
<rect x="537" y="409.0" width="1" height="45.0" fill="#ef5350"/>
<rect x="535" y="411.0" width="5" height="36.0" fill="#ef5350"/>
<rect x="543" y="437.0" width="1" height="32.0" fill="#ef5350"/>
<rect x="541" y="446.0" width="5" height="3.0" fill="#ef5350"/>
<rect x="550" y="437.0" width="1" height="35.0" fill="#ef5350"/>
<rect x="548" y="448.0" width="5" height="12.0" fill="#ef5350"/>
<rect x="556" y="424.0" width="1" height="40.0" fill="#26a69a"/>
<rect x="554" y="427.0" width="5" height="33.0" fill="#26a69a"/>
<rect x="562" y="414.0" width="1" height="67.0" fill="#ef5350"/>
<rect x="560" y="427.0" width="5" height="48.0" fill="#ef5350"/>
<rect x="568" y="474.0" width="1" height="43.0" fill="#ef5350"/>
<rect x="566" y="474.0" width="5" height="36.0" fill="#ef5350"/>
<rect x="575" y="487.0" width="1" height="32.0" fill="#26a69a"/>
<rect x="573" y="500.0" width="5" height="10.0" fill="#26a69a"/>
<rect x="581" y="485.0" width="1" height="28.0" fill="#26a69a"/>
<rect x="579" y="497.0" width="5" height="4.0" fill="#26a69a"/>
<rect x="587" y="462.0" width="1" height="41.0" fill="#26a69a"/>
<rect x="585" y="466.0" width="5" height="32.0" fill="#26a69a"/>
<rect x="593" y="464.0" width="1" height="68.0" fill="#ef5350"/>
<rect x="591" y="466.0" width="5" height="42.0" fill="#ef5350"/>
<rect x="600" y="476.0" width="1" height="47.0" fill="#26a69a"/>
<rect x="598" y="486.0" width="5" height="22.0" fill="#26a69a"/>
<rect x="606" y="419.0" width="1" height="72.0" fill="#26a69a"/>
<rect x="604" y="429.0" width="5" height="58.0" fill="#26a69a"/>
<rect x="612" y="428.0" width="1" height="13.0" fill="#ef5350"/>
<rect x="610" y="429.0" width="5" height="9.0" fill="#ef5350"/>
<rect x="619" y="421.0" width="1" height="17.0" fill="#26a69a"/>
<rect x="617" y="434.0" width="5" height="4.0" fill="#26a69a"/>
<rect x="625" y="419.0" width="1" height="42.0" fill="#ef5350"/>
<rect x="623" y="434.0" width="5" height="17.0" fill="#ef5350"/>
<rect x="631" y="438.0" width="1" height="43.0" fill="#ef5350"/>
<rect x="629" y="450.0" width="5" height="22.0" fill="#ef5350"/>
<rect x="637" y="459.0" width="1" height="21.0" fill="#26a69a"/>
<rect x="635" y="470.0" width="5" height="2.0" fill="#26a69a"/>
<rect x="644" y="470.0" width="1" height="43.0" fill="#ef5350"/>
<rect x="642" y="470.0" width="5" height="28.0" fill="#ef5350"/>
<rect x="650" y="484.0" width="1" height="19.0" fill="#26a69a"/>
<rect x="648" y="487.0" width="5" height="11.0" fill="#26a69a"/>
<rect x="656" y="478.0" width="1" height="12.0" fill="#26a69a"/>
<rect x="654" y="483.0" width="5" height="5.0" fill="#26a69a"/>
<rect x="662" y="469.0" width="1" height="28.0" fill="#26a69a"/>
<rect x="660" y="482.0" width="5" height="2.0" fill="#26a69a"/>
<rect x="669" y="465.0" width="1" height="24.0" fill="#26a69a"/>
<rect x="667" y="472.0" width="5" height="11.0" fill="#26a69a"/>
<rect x="675" y="466.0" width="1" height="30.0" fill="#ef5350"/>
<rect x="673" y="472.0" width="5" height="3.0" fill="#ef5350"/>
<rect x="681" y="400.0" width="1" height="78.0" fill="#26a69a"/>
<rect x="679" y="426.0" width="5" height="49.0" fill="#26a69a"/>
<rect x="687" y="425.0" width="1" height="14.0" fill="#ef5350"/>
<rect x="685" y="426.0" width="5" height="11.0" fill="#ef5350"/>
<rect x="694" y="432.0" width="1" height="113.0" fill="#ef5350"/>
<rect x="692" y="436.0" width="5" height="97.0" fill="#ef5350"/>
<rect x="700" y="532.0" width="1" height="37.0" fill="#ef5350"/>
<rect x="698" y="532.0" width="5" height="12.0" fill="#ef5350"/>
<rect x="706" y="534.0" width="1" height="20.0" fill="#ef5350"/>
<rect x="704" y="543.0" width="5" height="5.0" fill="#ef5350"/>
<rect x="713" y="521.0" width="1" height="40.0" fill="#26a69a"/>
<rect x="711" y="536.0" width="5" height="12.0" fill="#26a69a"/>
<rect x="719" y="533.0" width="1" height="21.0" fill="#ef5350"/>
<rect x="717" y="536.0" width="5" height="2.0" fill="#ef5350"/>
<rect x="725" y="519.0" width="1" height="19.0" fill="#26a69a"/>
<rect x="723" y="534.0" width="5" height="4.0" fill="#26a69a"/>
<rect x="731" y="519.0" width="1" height="23.0" fill="#26a69a"/>
<rect x="729" y="528.0" width="5" height="7.0" fill="#26a69a"/>
<rect x="738" y="524.0" width="1" height="13.0" fill="#ef5350"/>
<rect x="736" y="528.0" width="5" height="3.0" fill="#ef5350"/>
<rect x="744" y="522.0" width="1" height="9.0" fill="#26a69a"/>
<rect x="742" y="525.0" width="5" height="6.0" fill="#26a69a"/>
<rect x="750" y="490.0" width="1" height="105.0" fill="#26a69a"/>
<rect x="748" y="525.0" width="5" height="1.0" fill="#26a69a"/>
<rect x="756" y="492.0" width="1" height="39.0" fill="#26a69a"/>
<rect x="754" y="509.0" width="5" height="17.0" fill="#26a69a"/>
<rect x="763" y="503.0" width="1" height="17.0" fill="#ef5350"/>
<rect x="761" y="509.0" width="5" height="6.0" fill="#ef5350"/>
<rect x="769" y="511.0" width="1" height="42.0" fill="#ef5350"/>
<rect x="767" y="514.0" width="5" height="25.0" fill="#ef5350"/>
<rect x="775" y="518.0" width="1" height="22.0" fill="#26a69a"/>
<rect x="773" y="529.0" width="5" height="10.0" fill="#26a69a"/>
<rect x="782" y="506.0" width="1" height="50.0" fill="#ef5350"/>
<rect x="780" y="529.0" width="5" height="7.0" fill="#ef5350"/>
<rect x="788" y="525.0" width="1" height="19.0" fill="#26a69a"/>
<rect x="786" y="530.0" width="5" height="6.0" fill="#26a69a"/>
<rect x="794" y="526.0" width="1" height="24.0" fill="#ef5350"/>
<rect x="792" y="530.0" width="5" height="14.0" fill="#ef5350"/>
<rect x="800" y="526.0" width="1" height="21.0" fill="#26a69a"/>
<rect x="798" y="531.0" width="5" height="13.0" fill="#26a69a"/>
<rect x="807" y="510.0" width="1" height="28.0" fill="#26a69a"/>
<rect x="805" y="524.0" width="5" height="8.0" fill="#26a69a"/>
<rect x="813" y="468.0" width="1" height="58.0" fill="#26a69a"/>
<rect x="811" y="496.0" width="5" height="29.0" fill="#26a69a"/>
<rect x="819" y="492.0" width="1" height="43.0" fill="#ef5350"/>
<rect x="817" y="496.0" width="5" height="17.0" fill="#ef5350"/>
<rect x="825" y="506.0" width="1" height="21.0" fill="#ef5350"/>
<rect x="823" y="512.0" width="5" height="4.0" fill="#ef5350"/>
<rect x="832" y="493.0" width="1" height="25.0" fill="#26a69a"/>
<rect x="830" y="500.0" width="5" height="16.0" fill="#26a69a"/>
<rect x="838" y="477.0" width="1" height="27.0" fill="#26a69a"/>
<rect x="836" y="490.0" width="5" height="11.0" fill="#26a69a"/>
<rect x="844" y="481.0" width="1" height="12.0" fill="#26a69a"/>
<rect x="842" y="487.0" width="5" height="4.0" fill="#26a69a"/>
<rect x="850" y="433.0" width="1" height="55.0" fill="#26a69a"/>
<rect x="848" y="441.0" width="5" height="47.0" fill="#26a69a"/>
<rect x="857" y="425.0" width="1" height="32.0" fill="#ef5350"/>
<rect x="855" y="441.0" width="5" height="8.0" fill="#ef5350"/>
<rect x="863" y="430.0" width="1" height="22.0" fill="#26a69a"/>
<rect x="861" y="435.0" width="5" height="14.0" fill="#26a69a"/>
<rect x="869" y="421.0" width="1" height="31.0" fill="#ef5350"/>
<rect x="867" y="435.0" width="5" height="14.0" fill="#ef5350"/>
<rect x="876" y="446.0" width="1" height="22.0" fill="#ef5350"/>
<rect x="874" y="448.0" width="5" height="6.0" fill="#ef5350"/>
<rect x="882" y="450.0" width="1" height="12.0" fill="#ef5350"/>
<rect x="880" y="453.0" width="5" height="1.0" fill="#ef5350"/>
<rect x="888" y="438.0" width="1" height="16.0" fill="#26a69a"/>
<rect x="886" y="445.0" width="5" height="9.0" fill="#26a69a"/>
<rect x="894" y="392.0" width="1" height="54.0" fill="#26a69a"/>
<rect x="892" y="402.0" width="5" height="44.0" fill="#26a69a"/>
<rect x="901" y="368.0" width="1" height="35.0" fill="#26a69a"/>
<rect x="899" y="382.0" width="5" height="21.0" fill="#26a69a"/>
<rect x="907" y="376.0" width="1" height="20.0" fill="#ef5350"/>
<rect x="905" y="382.0" width="5" height="9.0" fill="#ef5350"/>
<rect x="913" y="355.0" width="1" height="36.0" fill="#26a69a"/>
<rect x="911" y="360.0" width="5" height="31.0" fill="#26a69a"/>
<rect x="919" y="360.0" width="1" height="15.0" fill="#ef5350"/>
<rect x="917" y="360.0" width="5" height="11.0" fill="#ef5350"/>
<rect x="926" y="346.0" width="1" height="25.0" fill="#26a69a"/>
<rect x="924" y="350.0" width="5" height="21.0" fill="#26a69a"/>
<rect x="932" y="341.0" width="1" height="43.0" fill="#ef5350"/>
<rect x="930" y="350.0" width="5" height="24.0" fill="#ef5350"/>
<rect x="938" y="360.0" width="1" height="29.0" fill="#26a69a"/>
<rect x="936" y="363.0" width="5" height="11.0" fill="#26a69a"/>
<rect x="944" y="312.0" width="1" height="54.0" fill="#26a69a"/>
<rect x="942" y="322.0" width="5" height="42.0" fill="#26a69a"/>
<rect x="951" y="309.0" width="1" height="27.0" fill="#26a69a"/>
<rect x="949" y="314.0" width="5" height="9.0" fill="#26a69a"/>
<rect x="957" y="303.0" width="1" height="29.0" fill="#ef5350"/>
<rect x="955" y="314.0" width="5" height="12.0" fill="#ef5350"/>
<rect x="963" y="313.0" width="1" height="26.0" fill="#ef5350"/>
<rect x="961" y="325.0" width="5" height="2.0" fill="#ef5350"/>
<rect x="970" y="299.0" width="1" height="31.0" fill="#26a69a"/>
<rect x="968" y="308.0" width="5" height="19.0" fill="#26a69a"/>
<rect x="976" y="304.0" width="1" height="21.0" fill="#ef5350"/>
<rect x="974" y="308.0" width="5" height="9.0" fill="#ef5350"/>
<rect x="982" y="300.0" width="1" height="36.0" fill="#ef5350"/>
<rect x="980" y="316.0" width="5" height="8.0" fill="#ef5350"/>
<rect x="988" y="321.0" width="1" height="36.0" fill="#ef5350"/>
<rect x="986" y="323.0" width="5" height="15.0" fill="#ef5350"/>
<rect x="995" y="328.0" width="1" height="14.0" fill="#26a69a"/>
<rect x="993" y="337.0" width="5" height="1.0" fill="#26a69a"/>
<rect x="1001" y="284.0" width="1" height="57.0" fill="#26a69a"/>
<rect x="999" y="289.0" width="5" height="49.0" fill="#26a69a"/>
<rect x="1007" y="280.0" width="1" height="22.0" fill="#ef5350"/>
<rect x="1005" y="289.0" width="5" height="6.0" fill="#ef5350"/>
<rect x="1013" y="272.0" width="1" height="49.0" fill="#26a69a"/>
<rect x="1011" y="290.0" width="5" height="5.0" fill="#26a69a"/>
<rect x="1020" y="178.0" width="1" height="113.0" fill="#26a69a"/>
<rect x="1018" y="191.0" width="5" height="100.0" fill="#26a69a"/>
<rect x="1026" y="145.0" width="1" height="54.0" fill="#26a69a"/>
<rect x="1024" y="172.0" width="5" height="20.0" fill="#26a69a"/>
<rect x="1032" y="151.0" width="1" height="35.0" fill="#26a69a"/>
<rect x="1030" y="154.0" width="5" height="19.0" fill="#26a69a"/>
<rect x="1039" y="143.0" width="1" height="39.0" fill="#ef5350"/>
<rect x="1037" y="154.0" width="5" height="6.0" fill="#ef5350"/>
<rect x="1045" y="130.0" width="1" height="38.0" fill="#ef5350"/>
<rect x="1043" y="159.0" width="5" height="5.0" fill="#ef5350"/>
<rect x="1051" y="149.0" width="1" height="24.0" fill="#26a69a"/>
<rect x="1049" y="155.0" width="5" height="9.0" fill="#26a69a"/>
<rect x="1057" y="154.0" width="1" height="37.0" fill="#ef5350"/>
<rect x="1055" y="155.0" width="5" height="23.0" fill="#ef5350"/>
<rect x="1064" y="71.0" width="1" height="111.0" fill="#26a69a"/>
<rect x="1062" y="91.0" width="5" height="87.0" fill="#26a69a"/>
<rect x="1070" y="70.0" width="1" height="127.0" fill="#ef5350"/>
<rect x="1068" y="91.0" width="5" height="70.0" fill="#ef5350"/>
<rect x="1076" y="157.0" width="1" height="41.0" fill="#ef5350"/>
<rect x="1074" y="160.0" width="5" height="12.0" fill="#ef5350"/>
<rect x="1082" y="154.0" width="1" height="33.0" fill="#ef5350"/>
<rect x="1080" y="171.0" width="5" height="4.0" fill="#ef5350"/>
<rect x="1089" y="167.0" width="1" height="84.0" fill="#ef5350"/>
<rect x="1087" y="174.0" width="5" height="38.0" fill="#ef5350"/>
<rect x="1095" y="181.0" width="1" height="43.0" fill="#26a69a"/>
<rect x="1093" y="185.0" width="5" height="27.0" fill="#26a69a"/>
<rect x="1101" y="171.0" width="1" height="35.0" fill="#ef5350"/>
<rect x="1099" y="185.0" width="5" height="18.0" fill="#ef5350"/>
<rect x="1107" y="164.0" width="1" height="47.0" fill="#26a69a"/>
<rect x="1105" y="167.0" width="5" height="36.0" fill="#26a69a"/>
<rect x="1114" y="97.0" width="1" height="116.0" fill="#ef5350"/>
<rect x="1112" y="166.0" width="5" height="14.0" fill="#ef5350"/>
<rect x="1120" y="157.0" width="1" height="53.0" fill="#26a69a"/>
<rect x="1118" y="162.0" width="5" height="18.0" fill="#26a69a"/>
<rect x="1126" y="111.0" width="1" height="87.0" fill="#26a69a"/>
<rect x="1124" y="127.0" width="5" height="36.0" fill="#26a69a"/>
<rect x="1133" y="117.0" width="1" height="31.0" fill="#ef5350"/>
<rect x="1131" y="127.0" width="5" height="5.0" fill="#ef5350"/>
<rect x="1139" y="127.0" width="1" height="39.0" fill="#ef5350"/>
<rect x="1137" y="131.0" width="5" height="8.0" fill="#ef5350"/>
<rect x="1145" y="126.0" width="1" height="36.0" fill="#ef5350"/>
<rect x="1143" y="138.0" width="5" height="16.0" fill="#ef5350"/>
<rect x="1151" y="135.0" width="1" height="55.0" fill="#ef5350"/>
<rect x="1149" y="153.0" width="5" height="23.0" fill="#ef5350"/>
<rect x="1158" y="163.0" width="1" height="53.0" fill="#ef5350"/>
<rect x="1156" y="175.0" width="5" height="20.0" fill="#ef5350"/>
<rect x="1164" y="101.0" width="1" height="104.0" fill="#26a69a"/>
<rect x="1162" y="122.0" width="5" height="73.0" fill="#26a69a"/>
<rect x="1170" y="112.0" width="1" height="36.0" fill="#ef5350"/>
<rect x="1168" y="122.0" width="5" height="24.0" fill="#ef5350"/>
<rect x="1176" y="136.0" width="1" height="23.0" fill="#ef5350"/>
<rect x="1174" y="145.0" width="5" height="4.0" fill="#ef5350"/>
<rect x="1183" y="127.0" width="1" height="53.0" fill="#ef5350"/>
<rect x="1181" y="148.0" width="5" height="27.0" fill="#ef5350"/>
<rect x="1189" y="146.0" width="1" height="33.0" fill="#26a69a"/>
<rect x="1187" y="166.0" width="5" height="9.0" fill="#26a69a"/>
</g>
<g clip-path="url(#cr)">
<rect x="4" y="743.5" width="1553" height="78.7" fill="#21173a"/>
<line x1="4" y1="743.5" x2="1556" y2="743.5" stroke="#c9c4d3" stroke-width="1" stroke-dasharray="6 5" stroke-dashoffset="0" shape-rendering="crispEdges"/>
<line x1="4" y1="822.5" x2="1556" y2="822.5" stroke="#c9c4d3" stroke-width="1" stroke-dasharray="6 5" stroke-dashoffset="0" shape-rendering="crispEdges"/>
<polyline points="4.5,743.5 11.5,751.3 17.5,759.2 23.5,757.2 29.5,754.6 36.5,753.1 42.5,741.1 48.5,747.6 54.5,744.2 61.5,774.4 67.5,785.1 73.5,784.2 79.5,796.2 86.5,799.4 92.5,799.4 98.5,801.4 105.5,799.4 111.5,806.8 117.5,812.3 123.5,789.2 130.5,788.3 136.5,794.4 142.5,789.2 148.5,783.3 155.5,790.1 161.5,794.8 167.5,801.4 173.5,796.2 180.5,804.6 186.5,795.1 192.5,798.1 199.5,803.1 205.5,816.0 211.5,822.5 217.5,819.2 224.5,826.6 230.5,823.5 236.5,817.9 242.5,819.2 249.5,804.9 255.5,791.4 261.5,790.1 268.5,796.2 274.5,794.4 280.5,796.6 286.5,804.9 293.5,827.2 299.5,832.7 305.5,832.7 311.5,823.5 318.5,831.4 324.5,806.4 330.5,805.3 336.5,806.4 343.5,804.6 349.5,801.2 355.5,802.5 362.5,774.4 368.5,772.2 374.5,768.5 380.5,770.3 387.5,769.4 393.5,784.2 399.5,779.6 405.5,780.5 412.5,775.7 418.5,775.3 424.5,772.6 430.5,772.2 437.5,769.2 443.5,757.7 449.5,767.9 456.5,777.2 462.5,776.3 468.5,778.7 474.5,786.1 481.5,788.3 487.5,777.6 493.5,775.3 499.5,777.6 506.5,779.6 512.5,799.4 518.5,803.1 525.5,791.4 531.5,796.2 537.5,806.2 543.5,806.4 550.5,809.6 556.5,795.3 562.5,807.7 568.5,816.4 575.5,812.3 581.5,811.1 587.5,798.5 593.5,809.6 600.5,801.2 606.5,782.4 612.5,784.6 619.5,783.7 625.5,788.7 631.5,794.4 637.5,794.8 644.5,802.4 650.5,798.5 656.5,796.2 662.5,796.2 669.5,791.4 675.5,792.4 681.5,772.6 687.5,776.6 694.5,806.8 700.5,810.1 706.5,811.4 713.5,806.4 719.5,806.4 725.5,805.3 731.5,801.4 738.5,802.4 744.5,800.3 750.5,800.3 756.5,790.5 763.5,793.8 769.5,803.3 775.5,798.5 782.5,801.4 788.5,797.2 794.5,803.3 800.5,795.3 807.5,791.1 813.5,775.3 819.5,784.2 825.5,786.4 832.5,778.1 838.5,772.6 844.5,770.1 850.5,751.3 857.5,756.5 863.5,751.3 869.5,760.0 876.5,763.3 882.5,763.3 888.5,759.0 894.5,742.9 901.5,737.9 907.5,742.9 913.5,735.5 919.5,742.0 926.5,737.8 932.5,752.6 938.5,749.4 944.5,738.7 951.5,736.5 957.5,742.9 963.5,744.4 970.5,739.2 976.5,743.9 982.5,749.4 988.5,758.3 995.5,758.3 1001.5,742.6 1007.5,745.2 1013.5,744.2 1020.5,723.1 1026.5,720.4 1032.5,718.3 1039.5,721.3 1045.5,724.4 1051.5,722.6 1057.5,737.4 1064.5,722.6 1070.5,753.1 1076.5,757.4 1082.5,758.7 1089.5,772.6 1095.5,765.5 1101.5,771.3 1107.5,762.4 1114.5,766.4 1120.5,762.7 1126.5,754.4 1133.5,755.9 1139.5,759.0 1145.5,765.2 1151.5,773.5 1158.5,781.3 1164.5,760.5 1170.5,768.3 1176.5,770.7 1183.5,779.6 1189.5,776.3" fill="none" stroke="#e8691f" stroke-width="1.15" stroke-linejoin="round" />
</g>
<rect x="4" y="703" width="1613" height="1" fill="#83858c"/>
<rect x="4" y="844" width="1613" height="1" fill="#83858c"/>
<rect x="1557" y="23" width="1" height="849" fill="#83858c"/>
<g>
<rect x="1558" y="28" width="4" height="1" fill="#83858c"/>
<text x="1566.5" y="32.7" font-size="12" fill="#cfd0d4" stroke="#cfd0d4" stroke-width="0.5" textLength="41.5" lengthAdjust="spacingAndGlyphs">12600.0</text>
<rect x="1558" y="60" width="4" height="1" fill="#83858c"/>
<rect x="1558" y="93" width="4" height="1" fill="#83858c"/>
<text x="1566.5" y="97.7" font-size="12" fill="#cfd0d4" stroke="#cfd0d4" stroke-width="0.5" textLength="41.5" lengthAdjust="spacingAndGlyphs">12200.0</text>
<rect x="1558" y="125" width="4" height="1" fill="#83858c"/>
<text x="1566.5" y="129.7" font-size="12" fill="#cfd0d4" stroke="#cfd0d4" stroke-width="0.5" textLength="41.5" lengthAdjust="spacingAndGlyphs">12000.0</text>
<rect x="1558" y="157" width="4" height="1" fill="#83858c"/>
<text x="1566.5" y="161.7" font-size="12" fill="#cfd0d4" stroke="#cfd0d4" stroke-width="0.5" textLength="41.5" lengthAdjust="spacingAndGlyphs">11800.0</text>
<rect x="1558" y="190" width="4" height="1" fill="#83858c"/>
<text x="1566.5" y="194.7" font-size="12" fill="#cfd0d4" stroke="#cfd0d4" stroke-width="0.5" textLength="41.5" lengthAdjust="spacingAndGlyphs">11600.0</text>
<rect x="1558" y="222" width="4" height="1" fill="#83858c"/>
<text x="1566.5" y="226.7" font-size="12" fill="#cfd0d4" stroke="#cfd0d4" stroke-width="0.5" textLength="41.5" lengthAdjust="spacingAndGlyphs">11400.0</text>
<rect x="1558" y="255" width="4" height="1" fill="#83858c"/>
<text x="1566.5" y="259.7" font-size="12" fill="#cfd0d4" stroke="#cfd0d4" stroke-width="0.5" textLength="41.5" lengthAdjust="spacingAndGlyphs">11200.0</text>
<rect x="1558" y="287" width="4" height="1" fill="#83858c"/>
<text x="1566.5" y="291.7" font-size="12" fill="#cfd0d4" stroke="#cfd0d4" stroke-width="0.5" textLength="41.5" lengthAdjust="spacingAndGlyphs">11000.0</text>
<rect x="1558" y="319" width="4" height="1" fill="#83858c"/>
<text x="1566.5" y="323.7" font-size="12" fill="#cfd0d4" stroke="#cfd0d4" stroke-width="0.5" textLength="41.5" lengthAdjust="spacingAndGlyphs">10800.0</text>
<rect x="1558" y="352" width="4" height="1" fill="#83858c"/>
<text x="1566.5" y="356.7" font-size="12" fill="#cfd0d4" stroke="#cfd0d4" stroke-width="0.5" textLength="41.5" lengthAdjust="spacingAndGlyphs">10600.0</text>
<rect x="1558" y="384" width="4" height="1" fill="#83858c"/>
<text x="1566.5" y="388.7" font-size="12" fill="#cfd0d4" stroke="#cfd0d4" stroke-width="0.5" textLength="41.5" lengthAdjust="spacingAndGlyphs">10400.0</text>
<rect x="1558" y="417" width="4" height="1" fill="#83858c"/>
<text x="1566.5" y="421.7" font-size="12" fill="#cfd0d4" stroke="#cfd0d4" stroke-width="0.5" textLength="41.5" lengthAdjust="spacingAndGlyphs">10200.0</text>
<rect x="1558" y="449" width="4" height="1" fill="#83858c"/>
<text x="1566.5" y="453.7" font-size="12" fill="#cfd0d4" stroke="#cfd0d4" stroke-width="0.5" textLength="41.5" lengthAdjust="spacingAndGlyphs">10000.0</text>
<rect x="1558" y="481" width="4" height="1" fill="#83858c"/>
<text x="1566.5" y="485.7" font-size="12" fill="#cfd0d4" stroke="#cfd0d4" stroke-width="0.5" textLength="35.5" lengthAdjust="spacingAndGlyphs">9800.0</text>
<rect x="1558" y="514" width="4" height="1" fill="#83858c"/>
<text x="1566.5" y="518.7" font-size="12" fill="#cfd0d4" stroke="#cfd0d4" stroke-width="0.5" textLength="35.5" lengthAdjust="spacingAndGlyphs">9600.0</text>
<rect x="1558" y="546" width="4" height="1" fill="#83858c"/>
<text x="1566.5" y="550.7" font-size="12" fill="#cfd0d4" stroke="#cfd0d4" stroke-width="0.5" textLength="35.5" lengthAdjust="spacingAndGlyphs">9400.0</text>
<rect x="1558" y="579" width="4" height="1" fill="#83858c"/>
<text x="1566.5" y="583.7" font-size="12" fill="#cfd0d4" stroke="#cfd0d4" stroke-width="0.5" textLength="35.5" lengthAdjust="spacingAndGlyphs">9200.0</text>
<rect x="1558" y="611" width="4" height="1" fill="#83858c"/>
<text x="1566.5" y="615.7" font-size="12" fill="#cfd0d4" stroke="#cfd0d4" stroke-width="0.5" textLength="35.5" lengthAdjust="spacingAndGlyphs">9000.0</text>
<rect x="1558" y="643" width="4" height="1" fill="#83858c"/>
<text x="1566.5" y="647.7" font-size="12" fill="#cfd0d4" stroke="#cfd0d4" stroke-width="0.5" textLength="35.5" lengthAdjust="spacingAndGlyphs">8800.0</text>
<rect x="1558" y="676" width="4" height="1" fill="#83858c"/>
<text x="1566.5" y="680.7" font-size="12" fill="#cfd0d4" stroke="#cfd0d4" stroke-width="0.5" textLength="35.5" lengthAdjust="spacingAndGlyphs">8600.0</text>
<rect x="1558" y="724" width="4" height="1" fill="#83858c" clip-path="url(#cax)"/>
<text x="1566.5" y="728.8" font-size="12" fill="#cfd0d4" stroke="#cfd0d4" stroke-width="0.5" textLength="29.5" lengthAdjust="spacingAndGlyphs" clip-path="url(#cax)">80.00</text>
<rect x="1558" y="763" width="4" height="1" fill="#83858c" clip-path="url(#cax)"/>
<text x="1566.5" y="767.8" font-size="12" fill="#cfd0d4" stroke="#cfd0d4" stroke-width="0.5" textLength="29.5" lengthAdjust="spacingAndGlyphs" clip-path="url(#cax)">60.00</text>
<rect x="1558" y="803" width="4" height="1" fill="#83858c" clip-path="url(#cax)"/>
<text x="1566.5" y="807.5" font-size="12" fill="#cfd0d4" stroke="#cfd0d4" stroke-width="0.5" textLength="29.5" lengthAdjust="spacingAndGlyphs" clip-path="url(#cax)">40.00</text>
<rect x="1558" y="842" width="4" height="1" fill="#83858c" clip-path="url(#cax)"/>
<text x="1566.5" y="846.3" font-size="12" fill="#cfd0d4" stroke="#cfd0d4" stroke-width="0.5" textLength="29.5" lengthAdjust="spacingAndGlyphs" clip-path="url(#cax)">20.00</text>
</g>
<rect x="1557" y="47" width="60" height="18" fill="#ffffff"/>
<rect x="1557" y="56" width="4" height="1" fill="#222222"/>
<text x="1566.5" y="60.7" font-size="12" fill="#222222" textLength="41.5" lengthAdjust="spacingAndGlyphs">12422.0</text>
<rect x="1557" y="124" width="60" height="18" fill="#cc0000"/>
<rect x="1557" y="133" width="4" height="1" fill="#ffffff"/>
<text x="1566.5" y="137.7" font-size="12" fill="#ffffff" stroke="#ffffff" stroke-width="0.5" textLength="41.5" lengthAdjust="spacingAndGlyphs">11947.0</text>
<rect x="1557" y="157" width="60" height="18" fill="#26a69a"/>
<rect x="1557" y="166" width="4" height="1" fill="#ffffff"/>
<text x="1566.5" y="170.7" font-size="12" fill="#ffffff" stroke="#ffffff" stroke-width="0.5" textLength="41.5" lengthAdjust="spacingAndGlyphs">11746.0</text>
<rect x="1575" y="176" width="42" height="18" fill="#26a69a"/>
<text x="1579.3" y="189.1" font-size="12" fill="#ffffff" stroke="#ffffff" stroke-width="0.5" textLength="29" lengthAdjust="spacingAndGlyphs">56:28</text>
<rect x="1557" y="269" width="60" height="18" fill="#6aa84f"/>
<rect x="1557" y="278" width="4" height="1" fill="#ffffff"/>
<text x="1566.5" y="282.7" font-size="12" fill="#ffffff" stroke="#ffffff" stroke-width="0.5" textLength="41.5" lengthAdjust="spacingAndGlyphs">11055.5</text>
<rect x="1557" y="349" width="60" height="18" fill="#fbc22f"/>
<rect x="1557" y="358" width="4" height="1" fill="#222222"/>
<text x="1566.5" y="362.7" font-size="12" fill="#222222" textLength="41.5" lengthAdjust="spacingAndGlyphs">10564.5</text>
<rect x="1557" y="411" width="60" height="18" fill="#ffffff"/>
<rect x="1557" y="420" width="4" height="1" fill="#222222"/>
<text x="1566.5" y="424.7" font-size="12" fill="#222222" textLength="41.5" lengthAdjust="spacingAndGlyphs">10177.5</text>
<rect x="1557" y="457" width="53" height="18" fill="#ffffff"/>
<rect x="1557" y="466" width="4" height="1" fill="#222222"/>
<text x="1566.5" y="470.7" font-size="12" fill="#222222" textLength="35.5" lengthAdjust="spacingAndGlyphs">9892.5</text>
<rect x="1557" y="580" width="53" height="18" fill="#ffffff"/>
<rect x="1557" y="589" width="4" height="1" fill="#222222"/>
<text x="1566.5" y="593.7" font-size="12" fill="#222222" textLength="35.5" lengthAdjust="spacingAndGlyphs">9134.5</text>
<rect x="1557" y="630" width="53" height="18" fill="#6aa84f"/>
<rect x="1557" y="639" width="4" height="1" fill="#ffffff"/>
<text x="1566.5" y="643.7" font-size="12" fill="#ffffff" stroke="#ffffff" stroke-width="0.5" textLength="35.5" lengthAdjust="spacingAndGlyphs">8826.0</text>
<rect x="80" y="845" width="1" height="3" fill="#83858c"/>
<text x="80.2" y="864.1" font-size="12" fill="#cfd0d4" stroke="#cfd0d4" stroke-width="0.5" text-anchor="middle">11</text>
<rect x="231" y="845" width="1" height="3" fill="#83858c"/>
<text x="231.2" y="864.1" font-size="12" fill="#cfd0d4" stroke="#cfd0d4" stroke-width="0.5" text-anchor="middle">15</text>
<rect x="344" y="845" width="1" height="3" fill="#83858c"/>
<text x="344.2" y="864.1" font-size="12" fill="#cfd0d4" stroke="#cfd0d4" stroke-width="0.5" text-anchor="middle">18</text>
<rect x="494" y="845" width="1" height="3" fill="#83858c"/>
<text x="494.2" y="864.1" font-size="12" fill="#cfd0d4" stroke="#cfd0d4" stroke-width="0.5" text-anchor="middle">22</text>
<rect x="607" y="845" width="1" height="3" fill="#83858c"/>
<text x="607.2" y="864.1" font-size="12" fill="#cfd0d4" stroke="#cfd0d4" stroke-width="0.5" text-anchor="middle">25</text>
<rect x="757" y="845" width="1" height="3" fill="#83858c"/>
<text x="757.2" y="864.1" font-size="12" fill="#cfd0d4" stroke="#cfd0d4" stroke-width="0.5" text-anchor="middle">29</text>
<rect x="870" y="845" width="1" height="3" fill="#83858c"/>
<text x="870.2" y="864.1" font-size="12" fill="#cfd0d4" stroke="#cfd0d4" stroke-width="0.5" text-anchor="middle">Aug</text>
<rect x="1021" y="845" width="1" height="3" fill="#83858c"/>
<text x="1021.2" y="864.1" font-size="12" fill="#cfd0d4" stroke="#cfd0d4" stroke-width="0.5" text-anchor="middle">5</text>
<rect x="1134" y="845" width="1" height="3" fill="#83858c"/>
<text x="1134.2" y="864.1" font-size="12" fill="#cfd0d4" stroke="#cfd0d4" stroke-width="0.5" text-anchor="middle">8</text>
<rect x="1284" y="845" width="1" height="3" fill="#83858c"/>
<text x="1284.2" y="864.1" font-size="12" fill="#cfd0d4" stroke="#cfd0d4" stroke-width="0.5" text-anchor="middle">12</text>
<rect x="1397" y="845" width="1" height="3" fill="#83858c"/>
<text x="1397.2" y="864.1" font-size="12" fill="#cfd0d4" stroke="#cfd0d4" stroke-width="0.5" text-anchor="middle">15</text>
<rect x="1547" y="845" width="1" height="3" fill="#83858c"/>
<text x="1547.2" y="864.1" font-size="12" fill="#cfd0d4" stroke="#cfd0d4" stroke-width="0.5" text-anchor="middle">19</text>
<text x="3.7" y="13.2" font-size="12.5" font-weight="bold" fill="#111111" textLength="125" lengthAdjust="spacingAndGlyphs">BITMEX:XBTUSD, 240</text>
<text x="134.7" y="13.2" font-size="12.5" font-weight="normal" fill="#111111" textLength="45.3" lengthAdjust="spacingAndGlyphs">11746.0</text>
<polygon points="183.4,4.8 194.2,4.8 188.8,15" fill="#8b0000"/>
<text x="197.6" y="13.2" font-size="12.5" font-weight="normal" fill="#111111" textLength="38.2" lengthAdjust="spacingAndGlyphs">−274.0</text>
<text x="239.8" y="13.2" font-size="12.5" font-weight="normal" fill="#111111" textLength="49.2" lengthAdjust="spacingAndGlyphs">(−2.28%)</text>
<text x="293.2" y="13.2" font-size="12.5" font-weight="bold" fill="#111111" textLength="12.2" lengthAdjust="spacingAndGlyphs">O:</text>
<text x="307.8" y="13.2" font-size="12.5" font-weight="normal" fill="#b52a2a" textLength="45" lengthAdjust="spacingAndGlyphs">11695.0</text>
<text x="357.5" y="13.2" font-size="12.5" font-weight="bold" fill="#111111" textLength="11.9" lengthAdjust="spacingAndGlyphs">H:</text>
<text x="371.7" y="13.2" font-size="12.5" font-weight="normal" fill="#b52a2a" textLength="45" lengthAdjust="spacingAndGlyphs">11870.5</text>
<text x="421.4" y="13.2" font-size="12.5" font-weight="bold" fill="#111111" textLength="9" lengthAdjust="spacingAndGlyphs">L:</text>
<text x="432.7" y="13.2" font-size="12.5" font-weight="normal" fill="#b52a2a" textLength="45" lengthAdjust="spacingAndGlyphs">11666.0</text>
<text x="482.4" y="13.2" font-size="12.5" font-weight="bold" fill="#111111" textLength="10.1" lengthAdjust="spacingAndGlyphs">C:</text>
<text x="494.8" y="13.2" font-size="12.5" font-weight="normal" fill="#b52a2a" textLength="45" lengthAdjust="spacingAndGlyphs">11746.0</text>
<text x="3.6" y="896.0" font-size="12.8" font-weight="normal" fill="#111111" textLength="72.3" lengthAdjust="spacingAndGlyphs">Created with</text>
<text x="103.5" y="896.0" font-size="12.8" font-weight="normal" fill="#3ba4e0" textLength="70.4" lengthAdjust="spacingAndGlyphs">TradingView</text>
<g transform="translate(79,883.4)"><path d="M3.5,14.6 C1,14.6 -0.2,13 -0.2,11.2 C-0.2,9.2 1.2,7.8 3,7.4 C3.2,3.2 6,0.2 9.6,0.2 C12,0.2 13.8,1.3 14.8,3 C15.5,2.5 16.4,2.2 17.4,2.2 C19.8,2.2 21.4,3.8 21.7,6.2 C23.2,6.9 24,8.4 24,10.2 C24,12.7 22.3,14.6 19.8,14.6 Z" fill="#5bc5ea"/><polyline points="0.4,11.4 9.1,4.6 13.9,12.7 20.6,4.2" fill="none" stroke="#ffffff" stroke-width="1.3" stroke-linejoin="miter"/></g>
</svg>
</body></html>
